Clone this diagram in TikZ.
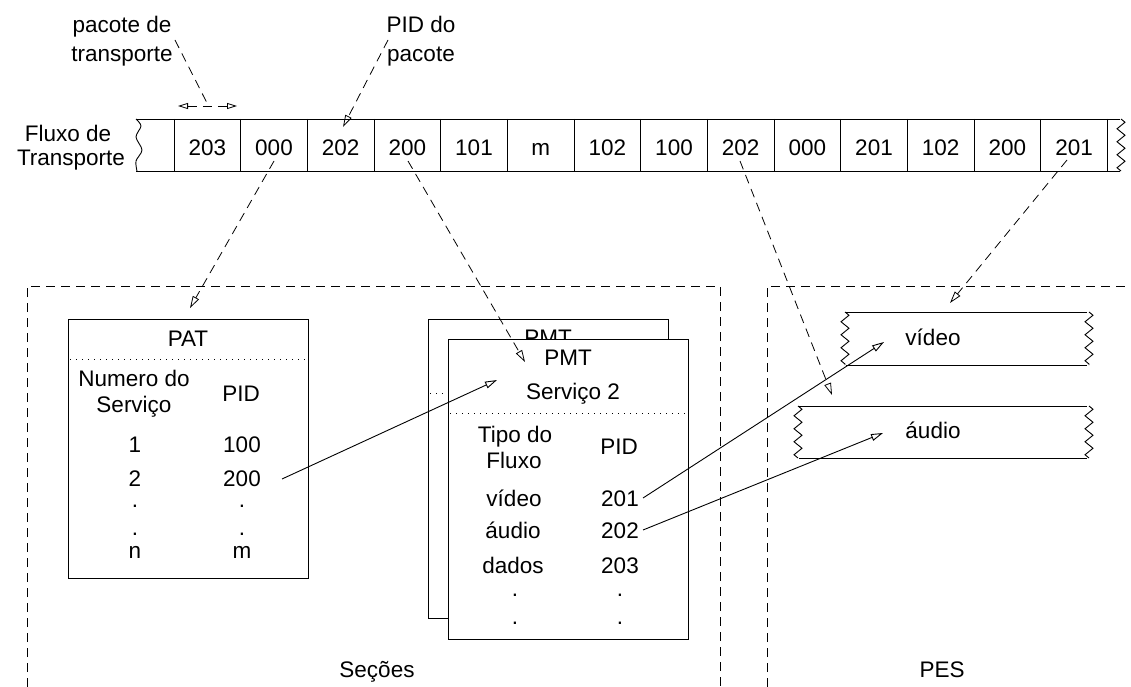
\documentclass[tikz,border=0pt]{standalone}
\usepackage{fontspec}
\setmainfont{Liberation Sans}
\usetikzlibrary{arrows.meta,decorations.pathmorphing}
\begin{document}
\begin{tikzpicture}[x=1pt,y=-1pt,
  txt/.style={font=\fontsize{22.5}{26}\selectfont, inner sep=0pt, anchor=base},
  ln/.style={line width=0.9pt},
  dsh/.style={line width=0.8pt, dash pattern=on 9pt off 6pt},
  dotl/.style={line width=0.9pt, dash pattern=on 1pt off 5pt},
  tip/.style={-{Triangle[open,length=12pt,width=7pt]}},
  dtip/.style={{Triangle[open,length=10pt,width=6pt]}-{Triangle[open,length=10pt,width=6pt]}},
  zz/.style={decorate, decoration={zigzag, segment length=13pt, amplitude=4pt}},
  box/.style={draw, line width=0.9pt, fill=white, inner sep=0pt},
]
\useasboundingbox (0,0) rectangle (1131,687);

% ---------- transport stream ----------
\draw[ln] (136,119) -- (1120,119);
\draw[ln] (136,171) -- (1120,171);
\draw[ln] plot[smooth] coordinates {(136,119) (141,126) (136,137) (142,150) (136,161) (137,171)};
\draw[ln,zz] (1121,119) -- (1121,171);
\foreach \k in {0,...,14} \draw[ln] ({174+66.667*\k},119) -- ({174+66.667*\k},171);
\foreach \lab [count=\k from 0] in {203,000,202,200,101,m,102,100,202,000,201,102,200,201}
  \node[txt] (c\k) at ({174+66.667*(\k+0.5)},156) {\lab};

\node[txt] (fl1) at (68,142) {Fluxo de};
\node[txt] (fl2) at (71,166) {Transporte};

\node[txt] (pt1) at (122,33) {pacote de};
\node[txt] (pt2) at (122,62) {transporte};
\node[txt] (pd1) at (421,33) {PID do};
\node[txt] (pd2) at (421,62) {pacote};

% ---------- dashed regions ----------
\draw[dsh] (27,687) -- (27,286) -- (720,286) -- (720,687);
\draw[dsh] (767,687) -- (767,286) -- (1131,286);
\node[txt] (sec) at (377,677) {Seções};
\node[txt] (pes) at (942,677) {PES};

% ---------- PAT ----------
\node[box, minimum width=240pt, minimum height=259pt] (pat) at (188,448.5) {};
\draw[dotl] (70,359) -- (306,359);
\node[txt] (patT) at (188,346) {PAT};
\node[txt] (patA1) at (134,386) {Numero do};
\node[txt] (patA2) at (134,412) {Serviço};
\node[txt] (patB) at (241,401) {PID};
\node[txt] (pa1) at (135,452) {1};
\node[txt] (pb1) at (242,452) {100};
\node[txt] (pa2) at (135,486) {2};
\node[txt] (pb2) at (242,486) {200};
\node[txt] (pa3) at (135,507) {.};
\node[txt] (pb3) at (242,507) {.};
\node[txt] (pa4) at (135,535) {.};
\node[txt] (pb4) at (242,535) {.};
\node[txt] (pa5) at (135,558) {n};
\node[txt] (pb5) at (242,558) {m};

% ---------- PMT (back) ----------
\node[box, minimum width=240pt, minimum height=299pt] (pmtb) at (548,468.5) {};
\node[txt] (pmtbT) at (548,345) {PMT};
\draw[dotl] (430,393) -- (666,393);

% ---------- PMT (front) ----------
\node[box, minimum width=240pt, minimum height=300pt] (pmt) at (568,489) {};
\draw[dotl] (450,413) -- (686,413);
\node[txt] (pmtT) at (568,365) {PMT};
\node[txt] (pmtS) at (573,399) {Serviço 2};
\node[txt] (pmA1) at (515,442) {Tipo do};
\node[txt] (pmA2) at (514,468) {Fluxo};
\node[txt] (pmB) at (619,454) {PID};
\node[txt] (ma1) at (514,506) {vídeo};
\node[txt] (mb1) at (620,506) {201};
\node[txt] (ma2) at (513,538) {áudio};
\node[txt] (mb2) at (620,538) {202};
\node[txt] (ma3) at (513,573) {dados};
\node[txt] (mb3) at (620,573) {203};
\node[txt] (ma4) at (515,596) {.};
\node[txt] (mb4) at (620,596) {.};
\node[txt] (ma5) at (515,624) {.};
\node[txt] (mb5) at (620,624) {.};

% ---------- PES ----------
\draw[ln] (846,312) -- (1087,312);
\draw[ln] (846,365) -- (1087,365);
\draw[ln,zz] (845,312) -- (845,365);
\draw[ln,zz] (1089,312) -- (1089,365);
\node[txt] (pv) at (933,345) {vídeo};

\draw[ln] (799,406) -- (1087,406);
\draw[ln] (799,458) -- (1087,458);
\draw[ln,zz] (798,406) -- (798,458);
\draw[ln,zz] (1089,406) -- (1089,458);
\node[txt] (pa) at (933,438) {áudio};

% ---------- connectors ----------
\coordinate (ptS) at (175,40);
\coordinate (ptE) at (207,103);
\coordinate (dA) at (178,106);
\coordinate (dB) at (237,106);
\draw[dsh] (ptS) -- (ptE);
\draw[dsh,dtip] (dA) -- (dB);

\coordinate (pdS) at (388,40);
\coordinate (pdE) at (343,127);
\draw[dsh,tip] (pdS) -- (pdE);

\coordinate (s1) at (274,161);
\coordinate (e1) at (190,308);
\draw[dsh,tip] (s1) -- (e1);
\coordinate (s2) at (408,161);
\coordinate (e2) at (525,362);
\draw[dsh,tip] (s2) -- (e2);
\coordinate (s3) at (740,161);
\coordinate (e3) at (832,395);
\draw[dsh,tip] (s3) -- (e3);
\coordinate (s4) at (1067,160);
\coordinate (e4) at (950,303);
\draw[dsh,tip] (s4) -- (e4);

\coordinate (a1s) at (282,479);
\coordinate (a1e) at (497,380);
\draw[ln,tip] (a1s) -- (a1e);
\coordinate (a2s) at (643,498);
\coordinate (a2e) at (884,342);
\draw[ln,tip] (a2s) -- (a2e);
\coordinate (a3s) at (643,530);
\coordinate (a3e) at (883,433);
\draw[ln,tip] (a3s) -- (a3e);
\end{tikzpicture}
\end{document}
